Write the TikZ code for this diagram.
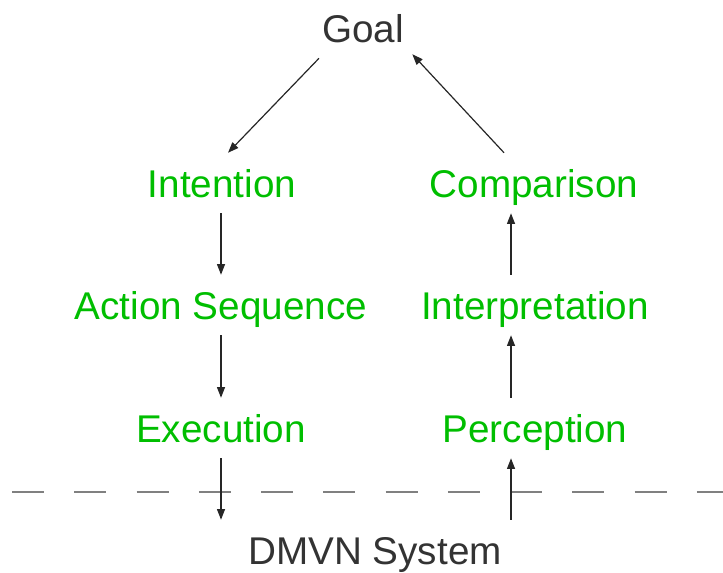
\documentclass[tikz,border=0pt]{standalone}
\usepackage{fontspec}
\setmainfont{Liberation Sans}
\usetikzlibrary{arrows.meta}
\definecolor{stagegreen}{RGB}{0,190,0}
\definecolor{darktext}{RGB}{51,51,51}
\definecolor{dashgray}{RGB}{128,128,128}
\begin{document}
\begin{tikzpicture}[x=0.75pt,y=-0.75pt,
  lbl/.style={anchor=base, font=\fontsize{29}{34}\selectfont, text height=21pt, text depth=0pt, inner xsep=0pt, inner ysep=12pt},
  stage/.style={lbl, text=stagegreen},
  plain/.style={lbl, text=darktext},
  arr/.style={draw=black!85, line width=0.9pt, -{Triangle[length=8pt,width=6pt]}},
  dashline/.style={draw=dashgray, line width=1.5pt, dash pattern=on 24pt off 22.7pt}]
\useasboundingbox (0,0) rectangle (723,572);
\node[plain] (goal) at (363,42) {Goal};
\node[stage] (int) at (222,197) {Intention};
\node[stage] (act) at (221,319) {Action Sequence};
\node[stage] (exe) at (221,442) {Execution};
\node[stage] (cmp) at (534,197) {Comparison};
\node[stage] (itp) at (535,319) {Interpretation};
\node[stage] (per) at (535,442) {Perception};
\node[plain] (sys) at (375,564) {DMVN System};
\draw[dashline] (12,492) -- (723,492);
\draw[arr] ([xshift=-33pt]goal.south) -- ([xshift=4.5pt]int.north);
\draw[arr] ([xshift=-22.5pt]cmp.north) -- ([xshift=37pt,yshift=3pt]goal.south);
\coordinate (lcol) at (act.south);
\draw[arr] (lcol |- int.south) -- (lcol |- act.north);
\draw[arr] (act.south) -- (exe.north);
\draw[arr] (exe.south) -- (exe.south |- sys.north);
\coordinate (rcol) at ([xshift=-18pt]per.south);
\draw[arr] (rcol |- sys.north) -- (rcol);
\draw[arr] (rcol |- per.north) -- (rcol |- itp.south);
\draw[arr] (rcol |- itp.north) -- (rcol |- cmp.south);
\end{tikzpicture}
\end{document}
